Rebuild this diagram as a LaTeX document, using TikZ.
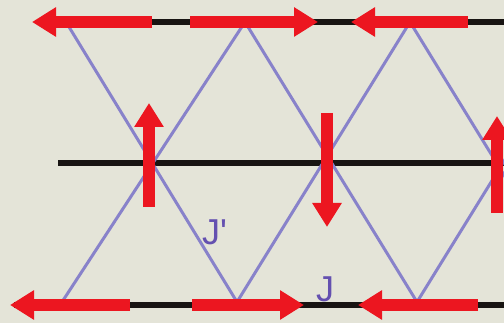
\documentclass[tikz,border=0pt]{standalone}
\usepackage{fontspec}
\setmainfont{Liberation Sans}
\usepackage{xcolor}
\usetikzlibrary{arrows.meta}

\definecolor{bgpaper}{RGB}{228,228,216}
\definecolor{spinred}{RGB}{236,22,32}
\definecolor{bondblue}{RGB}{136,130,202}
\definecolor{labpurple}{RGB}{100,80,176}
\definecolor{chainblack}{RGB}{24,20,18}

\begin{document}
\begin{tikzpicture}[
		x=1pt, y=-1pt,
		chain/.style={line width=6pt, chainblack},
		bond/.style={line width=3pt, bondblue, line join=round},
		spin/.style={-{Triangle[length=24pt, width=28pt]}, line width=12pt, spinred},
		lab/.style={text=labpurple, font=\fontsize{36}{36}\selectfont, inner sep=0pt}
		]
		
		% Background
		\fill[bgpaper] (0,0) rectangle (504,323);
		\useasboundingbox (0,0) rectangle (504,323);
		\clip (0,0) rectangle (504,323);
		
		% Chains
		\coordinate (top-l) at (40,22);
		\coordinate (top-r) at (504,22);
		\coordinate (mid-l) at (58,163);
		\coordinate (mid-r) at (504,163);
		\coordinate (bot-l) at (14,305);
		\coordinate (bot-r) at (504,305);
		\draw[chain] (top-l) -- (top-r);
		\draw[chain] (mid-l) -- (mid-r);
		\draw[chain] (bot-l) -- (bot-r);
		
		% Zigzag bonds
		\draw[bond] (66,22) -- (237,302) -- (410,22) -- (582,302);
		\draw[bond] (62,302) -- (245,22) -- (417,302) -- (590,22);
		
		% Spins on the top chain
		\draw[spin] (152,22) -- (32,22);
		\draw[spin] (190,22) -- (318,22);
		\draw[spin] (468,22) -- (351,22);
		
		% Spins on the middle chain
		\draw[spin] (149,207) -- (149,103);
		\draw[spin] (327,113) -- (327,227);
		\draw[spin] (497,213) -- (497,116);
		
		% Spins on the bottom chain
		\draw[spin] (130,305) -- (10,305);
		\draw[spin] (192,305) -- (304,305);
		\draw[spin] (478,305) -- (358,305);
		
		% Couplings
		\node[lab, anchor=base west] (Jp) at (202,245) {J\textquotesingle};
		\node[lab, anchor=base west] (J) at (316,302) {J};
		
	\end{tikzpicture}
\end{document}
